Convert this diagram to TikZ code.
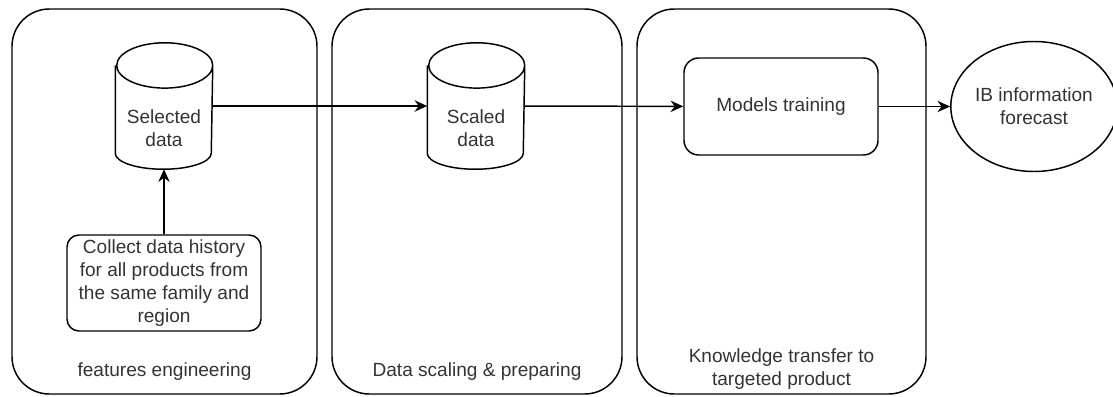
\documentclass[tikz,border=0pt]{standalone}
\usepackage{fontspec}
\setmainfont{Liberation Sans}
\definecolor{inkgray}{RGB}{51, 51, 51}
\usetikzlibrary{positioning,shapes.geometric,arrows.meta}

\tikzset{
    stage/.style={draw,rectangle,rounded corners=28pt,minimum height=288.75pt,inner sep=0pt},
    dbcyl/.style={rectangle,minimum width=72pt,minimum height=93.75pt,inner sep=0pt},
    card/.style={draw,rectangle,minimum width=145.5pt,inner sep=0pt},
    txt/.style={text=inkgray,align=center,font=\fontsize{14.3}{17.2}\selectfont},
    flow/.style={-{Stealth[length=9.5pt,width=8.5pt]}}
}

\begin{document}
\begin{tikzpicture}[x=0.75pt,y=-0.75pt,line width=1.1pt]
    \useasboundingbox (0,0) rectangle (1113,396);
    % three stages
    \node[stage,minimum width=228.75pt] (fe) at (164.5,201.5) {};
    \node[stage,minimum width=217.5pt] (ds) at (477,201.5) {};
    \node[stage,minimum width=216.75pt] (kt) at (781.5,201.5) {};
    \node[txt] (feLbl) at (164.5,372) {features engineering};
    \node[txt] (dsLbl) at (477,372) {Data scaling \& preparing};
    \node[txt] (ktLbl) at (781.5,369.5) {Knowledge transfer to\\targeted product};

    % data stores
    \node[dbcyl] (seldata) at (164,106) {};
    \node[txt] at (164,128.5) {Selected\\data};
    \node[dbcyl] (scaled) at (476,106) {};
    \node[txt] at (476,128) {Scaled\\data};
    \foreach \c in {seldata,scaled}
        \draw ([yshift=-17pt]\c.north west) -- ([yshift=12pt]\c.south west)
            arc[start angle=180,end angle=360,x radius=36pt,y radius=12pt]
            -- ([yshift=-17pt]\c.north east)
            arc[start angle=0,end angle=180,x radius=36pt,y radius=17pt]
            arc[start angle=180,end angle=360,x radius=36pt,y radius=17pt];

    \node[card,rounded corners=9pt,minimum height=72pt,txt] (collect) at (164,283)
        {Collect data history\\for all products from\\the same family and\\region};
    \node[card,rounded corners=11pt,minimum height=72.75pt,txt] (train) at (781,106.5) {Models training};
    \node[draw,ellipse,minimum width=115.5pt,minimum height=97.5pt,inner sep=0pt,txt] (ib) at (1034,106.5)
        {IB information\\forecast};

    \draw[flow] (collect) -- (seldata);
    \draw[flow] (seldata) -- (scaled);
    \draw[flow] (scaled) -- (train);
    \draw[flow] (train) -- (ib);
\end{tikzpicture}
\end{document}
